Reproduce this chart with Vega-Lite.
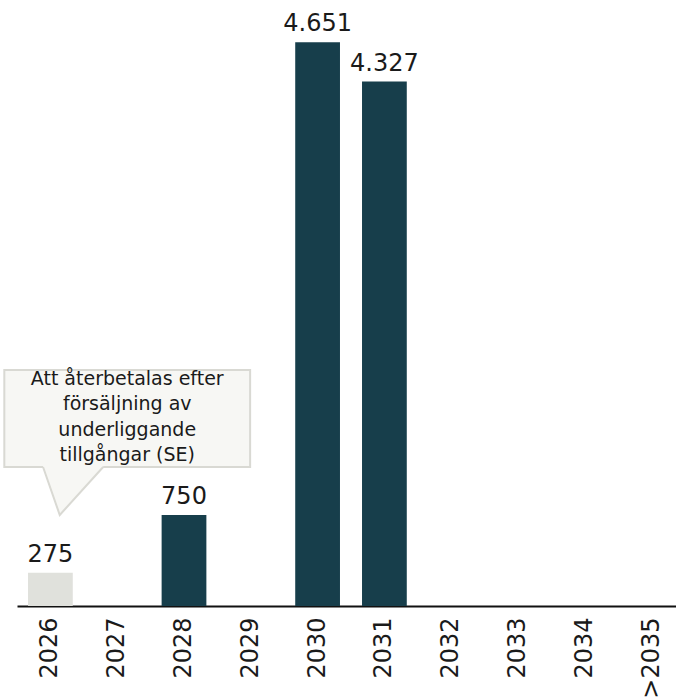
{
  "$schema": "https://vega.github.io/schema/vega-lite/v6.json",
  "width": 668,
  "height": 606,
  "autosize": "none",
  "padding": {"left": 17, "top": 0, "right": 0, "bottom": 93},
  "background": "white",
  "config": {"view": {"stroke": null}, "font": "DejaVu Sans"},
  "layer": [
    {
      "data": {"values": [
        {"year": "2026", "value": 275, "label": "275", "kind": "sold"},
        {"year": "2028", "value": 750, "label": "750", "kind": "normal"},
        {"year": "2030", "value": 4651, "label": "4.651", "kind": "normal"},
        {"year": "2031", "value": 4327, "label": "4.327", "kind": "normal"}
      ]},
      "encoding": {
        "x": {"field": "year", "type": "nominal",
          "scale": {"domain": ["2026","2027","2028","2029","2030","2031","2032","2033","2034",">2035"], "paddingInner": 0.33, "paddingOuter": 0.165},
          "axis": {"title": null, "labelAngle": -90, "labelAlign": "right", "labelBaseline": "middle", "labelFontSize": 24, "labelColor": "#1a1a1a", "labelPadding": 11, "ticks": false, "domainColor": "#111111", "domainWidth": 2, "labelFont": "DejaVu Sans"}},
        "y": {"field": "value", "type": "quantitative", "scale": {"domain": [0, 5000], "nice": false}, "axis": null}
      },
      "layer": [
        {"mark": {"type": "bar"},
         "encoding": {"color": {"field": "kind", "type": "nominal", "scale": {"domain": ["sold","normal"], "range": ["#e0e1dc", "#173e4b"]}, "legend": null}}},
        {"mark": {"type": "text", "baseline": "bottom", "dy": -6, "fontSize": 24, "color": "#1a1a1a"},
         "encoding": {"text": {"field": "label"}}}
      ]
    },
    {
      "layer": [
        {
          "data": {"values": [{"x1": -0.69, "x2": 2.99, "y1": 1947, "y2": 1147}]},
          "mark": {"type": "rect", "fill": "#f7f7f4", "stroke": "#d9d9d3", "strokeWidth": 2},
          "encoding": {
            "x": {"field": "x1", "type": "quantitative", "scale": {"domain": [-0.5, 9.5], "nice": false, "zero": false}, "axis": null},
            "x2": {"field": "x2"},
            "y": {"field": "y1", "type": "quantitative"},
            "y2": {"field": "y2"}
          }
        },
        {
          "data": {"values": [
            {"cx": -0.11, "top": 1165, "bot": 1147},
            {"cx": 0.14, "top": 1165, "bot": 751},
            {"cx": 0.79, "top": 1165, "bot": 1147}
          ]},
          "mark": {"type": "area", "fill": "#f7f7f4", "opacity": 1},
          "encoding": {
            "x": {"field": "cx", "type": "quantitative", "axis": null},
            "y": {"field": "top", "type": "quantitative"},
            "y2": {"field": "bot"}
          }
        },
        {
          "data": {"values": [
            {"cx": -0.11, "cy": 1147, "o": 1},
            {"cx": 0.14, "cy": 751, "o": 2},
            {"cx": 0.79, "cy": 1147, "o": 3}
          ]},
          "mark": {"type": "line", "stroke": "#d9d9d3", "strokeWidth": 2},
          "encoding": {
            "x": {"field": "cx", "type": "quantitative", "axis": null},
            "y": {"field": "cy", "type": "quantitative"},
            "order": {"field": "o"}
          }
        },
        {
          "data": {"values": [{"tx": 1.15, "ty": 1950, "label": "Att återbetalas efter\nförsäljning av\nunderliggande\ntillgångar (SE)"}]},
          "mark": {"type": "text", "baseline": "top", "align": "center", "fontSize": 19, "lineHeight": 25.5, "lineBreak": "\n", "color": "#1a1a1a"},
          "encoding": {
            "x": {"field": "tx", "type": "quantitative", "axis": null},
            "y": {"field": "ty", "type": "quantitative"},
            "text": {"field": "label"}
          }
        }
      ]
    }
  ],
  "resolve": {"scale": {"x": "independent"}}
}
